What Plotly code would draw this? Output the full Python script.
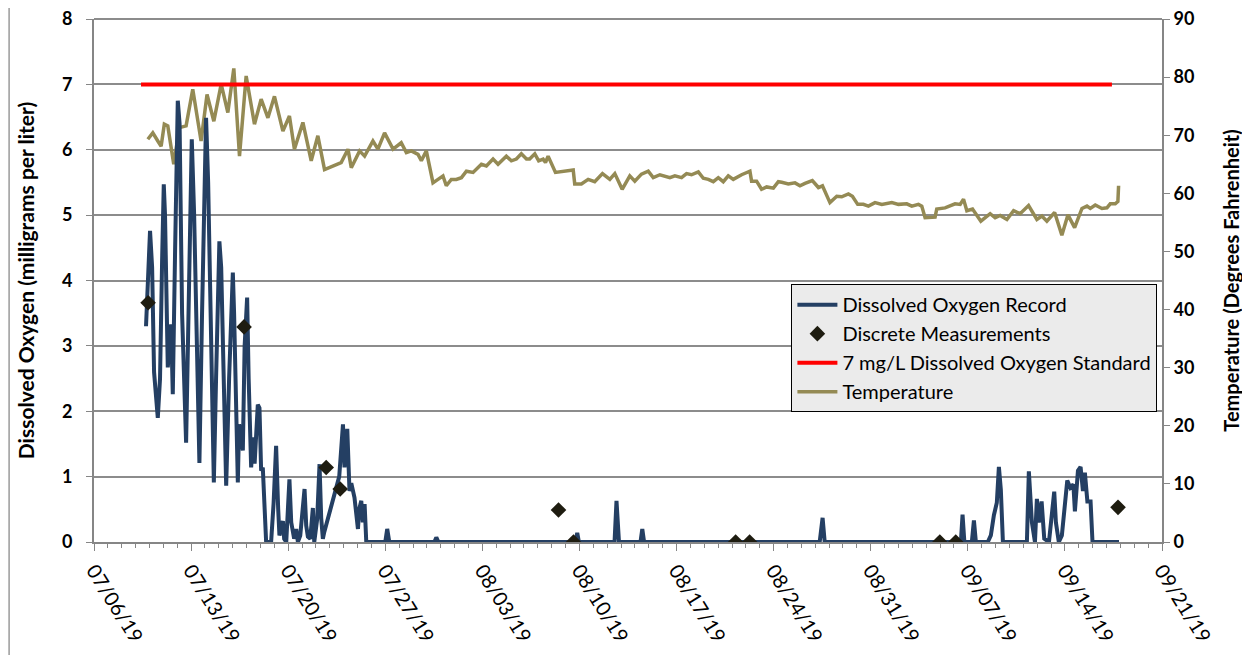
import pandas as pd
import plotly.graph_objects as go

BASE = pd.Timestamp("2019-07-06")

# Dissolved oxygen record: days since 07/06/19, mg/L
do_days = [3.75, 4.04, 4.19, 4.33, 4.60, 4.76, 4.91, 5.03, 5.12, 5.32, 5.56, 5.68, 5.85, 6.04, 6.17, 6.35,
           6.64, 6.86, 7.05, 7.22, 7.60, 7.79, 8.08, 8.23, 8.64, 8.80, 9.04, 9.17, 9.53, 9.74, 10.01, 10.10,
           10.37, 10.46, 10.61, 10.73, 10.86, 11.04, 11.15, 11.33, 11.47, 11.58, 11.81, 11.93, 12.05, 12.17,
           12.41, 12.77, 12.95, 13.13, 13.28, 13.37, 13.62, 13.71, 13.86, 14.09, 14.22, 14.34, 14.43, 14.58,
           14.70, 14.87, 15.01, 15.18, 15.30, 15.42, 15.59, 15.78, 15.88, 16.09, 16.26, 16.38, 16.50, 16.60,
           17.68, 17.95, 18.06, 18.26, 18.42, 18.55, 18.78, 19.03, 19.12, 19.27, 19.38, 19.51, 19.63,
           21.00, 21.14, 21.29, 24.54, 24.68, 24.83, 34.71, 34.84, 34.96, 37.53, 37.67, 37.85,
           39.40, 39.53, 39.66, 52.32, 52.53, 52.68, 62.50, 62.62, 62.75, 63.29, 63.44, 63.58,
           64.44, 64.66, 64.88, 65.09, 65.24, 65.38, 65.53, 67.26, 67.40, 67.62, 67.84, 67.98, 68.12,
           68.32, 68.51, 68.85, 69.06, 69.23, 69.35, 69.56, 69.78, 70.00, 70.17, 70.39, 70.61, 70.72,
           70.94, 71.13, 71.30, 71.44, 71.62, 71.85, 71.99, 73.90]
do_values = [3.3, 4.76, 4.2, 2.6, 1.90, 2.5, 4.3, 5.47, 5.0, 2.67, 3.33, 2.26, 4.5, 6.75, 6.4, 3.5,
             1.52, 4.0, 6.16, 5.0, 1.21, 3.5, 6.49, 5.5, 0.91, 2.5, 4.60, 4.2, 0.86, 2.5, 4.12, 3.5,
             0.91, 1.8, 1.5, 1.4, 3.0, 3.74, 2.5, 1.14, 1.6, 1.2, 2.1, 2.05, 1.09, 1.14,
             0.0, 0.0, 0.6, 1.47, 0.5, 0.1, 0.32, 0.05, 0.0, 0.96, 0.3, 0.17, 0.05, 0.2,
             0.0, 0.1, 0.45, 0.81, 0.25, 0.08, 0.05, 0.52, 0.0, 0.35, 1.19, 0.37, 0.05, 0.15,
             1.0, 1.80, 1.14, 1.73, 0.78, 0.9, 0.68, 0.2, 0.5, 0.63, 0.3, 0.58, 0.0,
             0.0, 0.2, 0.0, 0.0, 0.07, 0.0, 0.0, 0.14, 0.0, 0.0, 0.63, 0.0,
             0.0, 0.2, 0.0, 0.0, 0.37, 0.0, 0.0, 0.42, 0.0, 0.0, 0.33, 0.0,
             0.0, 0.1, 0.41, 0.6, 1.15, 0.8, 0.0, 0.0, 1.08, 0.3, 0.0, 0.66, 0.3,
             0.62, 0.05, 0.0, 0.4, 0.77, 0.3, 0.0, 0.1, 0.6, 0.94, 0.83, 0.88, 0.47,
             1.09, 1.15, 0.78, 1.06, 0.62, 0.62, 0.0, 0.0]

# Discrete measurements
meas_days = [3.90, 10.82, 16.74, 17.75, 33.49, 34.57, 46.26, 47.27, 60.98, 62.13, 73.83]
meas_values = [3.66, 3.29, 1.14, 0.81, 0.49, 0.0, 0.0, 0.0, 0.0, 0.0, 0.53]

# 7 mg/L standard
std_days = [3.39, 73.39]
std_values = [7, 7]

# Temperature (deg F)
temp_days = [3.88, 4.24, 4.60, 4.84, 5.07, 5.32, 5.75, 6.16, 6.64, 7.12, 7.72, 8.15, 8.64, 9.17, 9.65,
             10.08, 10.49, 10.97, 11.57, 12.05, 12.54, 13.01, 13.62, 14.09, 14.45, 15.06, 15.66, 16.14,
             16.62, 17.82, 18.31, 18.55, 19.15, 19.51, 20.11, 20.47, 20.95, 21.56, 22.15, 22.52, 22.88,
             23.36, 23.60, 23.96, 24.44, 24.80, 25.16, 25.40, 25.76, 26.12, 26.49, 26.85, 27.33, 27.93,
             28.29, 28.77, 29.13, 29.73, 30.09, 30.45, 30.81, 31.18, 31.41, 31.78, 32.06, 32.38, 32.55,
             32.74, 33.27, 34.55, 34.66, 35.14, 35.63, 36.10, 36.66, 37.19, 37.55, 38.08, 38.63, 38.99,
             39.47, 39.96, 40.32, 40.80, 41.16, 41.52, 41.88, 42.36, 42.72, 43.08, 43.57, 43.93, 44.29,
             44.65, 45.01, 45.37, 45.73, 46.09, 46.69, 47.29, 47.41, 47.77, 48.13, 48.50, 48.98, 49.34,
             49.58, 50.06, 50.54, 50.90, 51.26, 51.79, 52.23, 52.52, 53.06, 53.55, 53.91, 54.39, 54.68,
             55.06, 55.47, 55.83, 56.31, 56.80, 57.52, 58.00, 58.60, 58.96, 59.44, 59.68, 59.92, 60.64,
             60.76, 61.36, 62.08, 62.45, 62.69, 62.93, 63.34, 63.94, 64.61, 64.97, 65.33, 65.82, 66.30,
             66.77, 67.38, 67.98, 68.34, 68.70, 69.26, 69.78, 70.22, 70.70, 71.23, 71.59, 71.83, 72.19,
             72.67, 73.03, 73.27, 73.63, 73.82, 73.87]
temp_values = [69.3, 70.4, 69.0, 68.1, 71.9, 71.6, 65.0, 71.3, 71.6, 77.9, 69.0, 77.0, 72.4, 78.8, 73.9,
               81.5, 66.4, 80.2, 71.9, 76.2, 73.0, 76.7, 70.7, 73.3, 67.6, 72.2, 65.6, 69.9,
               64.1, 65.3, 67.6, 64.4, 67.3, 66.4, 69.0, 67.6, 70.4, 67.6, 68.7, 67.0, 67.3,
               66.7, 65.6, 67.3, 61.8, 62.4, 63.0, 61.3, 62.4, 62.4, 62.7, 63.8, 63.6, 65.0,
               64.7, 65.9, 65.0, 66.4, 65.6, 65.9, 66.8, 65.9, 65.9, 66.8, 65.6, 65.9, 65.3,
               66.4, 63.6, 64.0, 61.6, 61.6, 62.4, 62.0, 63.4, 62.4, 63.4, 60.7, 63.0, 62.1,
               63.3, 63.8, 62.7, 63.2, 63.0, 62.7, 63.0, 62.7, 63.4, 63.2, 63.7, 62.6, 62.4,
               62.0, 62.7, 62.0, 63.0, 62.4, 63.2, 63.8, 62.1, 62.1, 60.7, 61.1, 60.9, 62.0,
               61.9, 61.6, 61.8, 61.3, 61.7, 62.2, 61.0, 61.3, 58.4, 59.5, 59.4, 59.9, 59.5,
               58.1, 58.1, 57.8, 58.4, 58.1, 58.4, 58.1, 58.2, 57.8, 58.1, 57.8, 55.8, 55.9,
               57.3, 57.5, 58.2, 58.1, 59.0, 57.0, 57.3, 55.2, 56.5, 55.8, 56.2, 55.5, 57.0,
               56.5, 57.9, 55.5, 56.1, 55.2, 56.7, 52.8, 56.3, 54.1, 57.4, 57.8, 57.4, 58.0,
               57.4, 57.5, 58.2, 58.2, 58.6, 61.3]

do_ticks = [0, 1, 2, 3, 4, 5, 6, 7, 8]
temp_ticks = [0, 10, 20, 30, 40, 50, 60, 70, 80, 90]
x_start, x_end = "2019-07-06", "2019-09-21"


def to_dt(days):
    return BASE + pd.to_timedelta(days, unit="D")


FONT = "Lato, Carlito, Calibri, 'Open Sans', sans-serif"

fig = go.Figure()
fig.add_trace(go.Scatter(x=to_dt(temp_days), y=temp_values, mode="lines", name="Temperature",
                         line=dict(color="#948a54", width=3.5), yaxis="y", legendrank=4))
fig.add_trace(go.Scatter(x=to_dt(std_days), y=std_values, mode="lines",
                         name="7 mg/L Dissolved Oxygen Standard",
                         line=dict(color="#ff0000", width=4), yaxis="y2", legendrank=3))
fig.add_trace(go.Scatter(x=to_dt(do_days), y=do_values, mode="lines", name="Dissolved Oxygen Record",
                         line=dict(color="#243f63", width=4), yaxis="y2", legendrank=1))
fig.add_trace(go.Scatter(x=to_dt(meas_days), y=meas_values, mode="markers",
                         name="Discrete Measurements",
                         marker=dict(symbol="diamond", size=12, color="#1e1c10"),
                         yaxis="y2", legendrank=2))

fig.update_layout(
    width=1250, height=655,
    margin=dict(l=86, r=96, t=11, b=121),
    paper_bgcolor="white", plot_bgcolor="white",
    font=dict(family=FONT, color="black", size=17),
    showlegend=True,
    legend=dict(x=0.653, y=0.493, xanchor="left", yanchor="top",
                bgcolor="#ebebeb", bordercolor="black", borderwidth=1,
                font=dict(size=20, family=FONT), tracegroupgap=4, itemwidth=40),
    xaxis=dict(type="date", range=[x_start, x_end], tick0=x_start, dtick=7 * 86400000,
               tickformat="%m/%d/%y", tickangle=58, ticks="outside", ticklen=7,
               tickcolor="#868686", showline=True, linecolor="#868686", linewidth=2,
               showgrid=False, zeroline=False, tickfont=dict(size=20), automargin=False,
               ticklabeloverflow="allow",
               minor=dict(dtick=86400000, ticks="outside", ticklen=4, tickcolor="#868686")),
    yaxis=dict(range=[0, 90], tickvals=temp_ticks, side="right", showgrid=False,
               zeroline=False, showline=True, linecolor="#868686", linewidth=2,
               ticks="outside", ticklen=6, tickcolor="#868686", automargin=False,
               ticklabeloverflow="allow",
               tickfont=dict(size=18, family=FONT, weight="bold"),
               title=dict(text="Temperature (Degrees Fahrenheit)",
                          font=dict(size=20, weight="bold"), standoff=32)),
    yaxis2=dict(range=[0, 8], tickvals=do_ticks, side="left", overlaying="y",
                showgrid=True, gridcolor="#8c8c8c", gridwidth=2, zeroline=False,
                showline=True, linecolor="#868686", linewidth=2, ticks="outside", ticklen=6,
                tickcolor="#868686", tickfont=dict(size=18, family=FONT, weight="bold"),
                automargin=False, ticklabeloverflow="allow", ticklabelstandoff=10,
                title=dict(text="Dissolved Oxygen (milligrams per liter)",
                           font=dict(size=21, weight="bold"), standoff=22)),
    shapes=[dict(type="line", xref="paper", yref="paper", x0=-0.0795, x1=-0.0795, y0=-0.25, y1=1.05,
                 line=dict(color="#9a9a9a", width=1.5)),
            dict(type="line", xref="paper", yref="paper", x0=0, x1=1, y0=1, y1=1,
                 line=dict(color="#8c8c8c", width=2))],
)

fig.write_html("out.html")
